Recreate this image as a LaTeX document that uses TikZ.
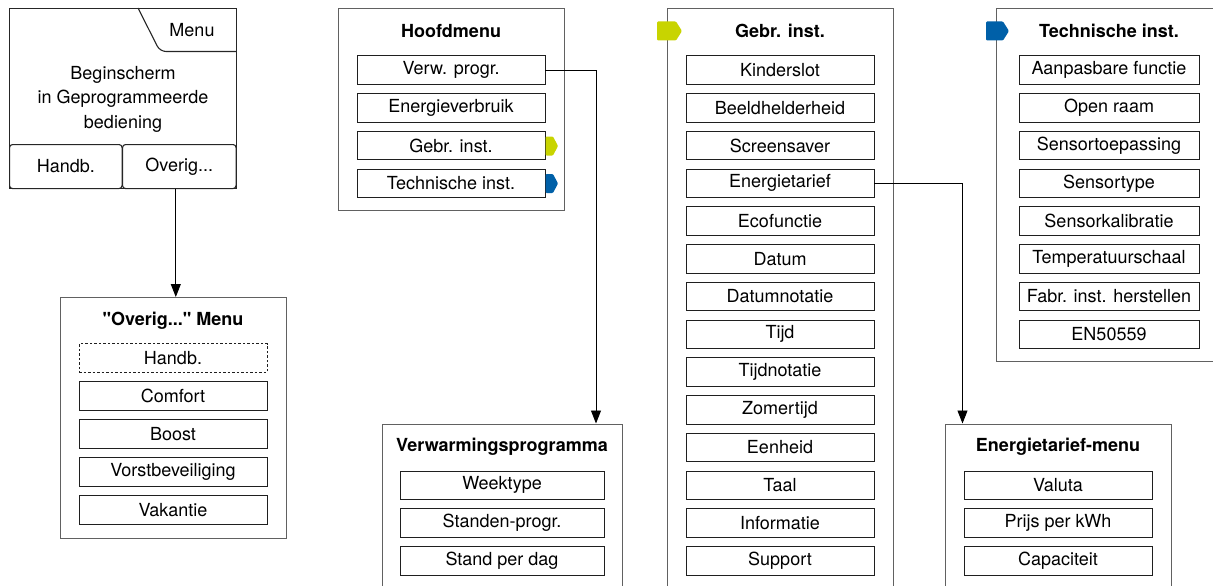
\documentclass[tikz,border=0pt]{standalone}
\usepackage{fontspec}
\setmainfont{TeX Gyre Heros}[Ligatures=TeXOff]
\usetikzlibrary{arrows.meta,calc}
\definecolor{tagyellow}{HTML}{C8D400}
\definecolor{tagblue}{HTML}{0060A8}
\begin{document}
\begin{tikzpicture}[x=1pt,y=-1pt,
  txt/.style={font=\fontsize{18}{21}\selectfont},
  ttl/.style={font=\fontsize{18}{21}\selectfont\bfseries},
  outer/.style={draw=black!62, line width=1.3pt, inner sep=0pt, anchor=north west},
  item/.style={draw=black!88, line width=0.9pt, minimum height=28.5pt, inner sep=0pt, txt},
  dashitem/.style={item, dash pattern=on 2.5pt off 2pt},
  scr/.style={draw=black!85, line width=1.1pt},
  btn/.style={scr, rounded corners=3pt, inner sep=0pt, anchor=north west, minimum height=44pt, txt},
  conn/.style={draw=black, line width=0.9pt},
  arr/.style={conn, -{Triangle[width=10pt,length=13pt]}}
]
\useasboundingbox (0,0) rectangle (1213,586);
\clip (0,0) rectangle (1213,586);

% ---------- start screen ----------
\node[scr, anchor=north west, minimum width=227pt, minimum height=180pt, inner sep=0pt] (screen) at (9,8) {};
\draw[scr, rounded corners=6pt] (138,8) -- (160,51.5) -- (236,51.5);
\node[txt] (menu) at (192,30) {Menu};
\node[align=center, font=\fontsize{18}{24.5}\selectfont] (begin) at (123,99) {Beginscherm\\in Geprogrammeerde\\bediening};
\node[btn, minimum width=112.5pt] (hb) at (9,144) {Handb.};
\node[btn, minimum width=113.5pt] (ov) at (122,144) {Overig...};

% ---------- Overig menu ----------
\node[outer, minimum width=226pt, minimum height=241pt] (om) at (60,297) {};
\node[ttl] (omt) at (173,321) {"Overig..." Menu};
\node[dashitem, minimum width=188pt] (o1) at (173,358) {Handb.};
\foreach [count=\i from 2] \t in {Comfort,Boost,Vorstbeveiliging,Vakantie}
  \node[item, minimum width=188pt] (o\i) at (173,{358+38*(\i-1)}) {\t};
\draw[arr] ([xshift=-3.5pt]ov.south) -- ([xshift=-3.5pt]ov.south |- om.north);

% ---------- Hoofdmenu ----------
\node[outer, minimum width=226pt, minimum height=202pt] (hm) at (338,8) {};
\node[ttl] (hmt) at (451,31) {Hoofdmenu};
\foreach [count=\i] \t in {Verw. progr.,Energieverbruik,Gebr. inst.,Technische inst.}
  \node[item, minimum width=188pt] (h\i) at (451,{70+37.75*(\i-1)}) {\t};
\fill[tagyellow, rounded corners=1pt] (545.5,136.5) -- (553,136.5) -- (558,146) -- (553,155.5) -- (545.5,155.5) -- cycle;
\fill[tagblue, rounded corners=1pt] (545.5,174) -- (553,174) -- (558,183.5) -- (553,193) -- (545.5,193) -- cycle;

% ---------- Verwarmingsprogramma ----------
\node[outer, minimum width=240pt, minimum height=200pt] (vp) at (382,423.5) {};
\node[ttl] (vpt) at (502,447) {Verwarmingsprogramma};
\foreach [count=\i] \t in {Weektype,Standen-progr.,Stand per dag}
  \node[item, minimum width=204pt] (v\i) at (502,{485.25+37.75*(\i-1)}) {\t};
\coordinate (vin) at (596,423.5);
\draw[arr] (h1.east) -| (vin);

% ---------- Gebr. inst. ----------
\node[outer, minimum width=226pt, minimum height=620pt] (gi) at (667,8) {};
\node[ttl] (git) at (780,31) {Gebr. inst.};
\foreach [count=\i] \t in {Kinderslot,Beeldhelderheid,Screensaver,Energietarief,Ecofunctie,Datum,Datumnotatie,Tijd,Tijdnotatie,Zomertijd,Eenheid,Taal,Informatie,Support}
  \node[item, minimum width=188pt] (g\i) at (780,{70+37.75*(\i-1)}) {\t};
\fill[tagyellow, rounded corners=1pt] (657,21.5) -- (676,21.5) -- (682,31) -- (676,40.5) -- (657,40.5) -- cycle;

% ---------- Energietarief-menu ----------
\node[outer, minimum width=226pt, minimum height=200pt] (em) at (945,423.5) {};
\node[ttl] (emt) at (1058,447) {Energietarief-menu};
\foreach [count=\i] \t in {Valuta,Prijs per kWh,Capaciteit}
  \node[item, minimum width=188pt] (e\i) at (1058,{485.25+37.75*(\i-1)}) {\t};
\coordinate (ein) at (962.5,423.5);
\draw[arr] (g4.east) -| (ein);

% ---------- Technische inst. ----------
\node[outer, minimum width=240pt, minimum height=353pt] (ti) at (996,8) {};
\node[ttl] (tit) at (1109,31) {Technische inst.};
\foreach [count=\i] \t in {Aanpasbare functie,Open raam,Sensortoepassing,Sensortype,Sensorkalibratie,Temperatuurschaal,Fabr. inst. herstellen,EN50559}
  \node[item, minimum width=180pt] (t\i) at (1109,{70+37.75*(\i-1)}) {\t};
\fill[tagblue, rounded corners=1pt] (986,21.5) -- (1003,21.5) -- (1009,31) -- (1003,40.5) -- (986,40.5) -- cycle;
\end{tikzpicture}
\end{document}
